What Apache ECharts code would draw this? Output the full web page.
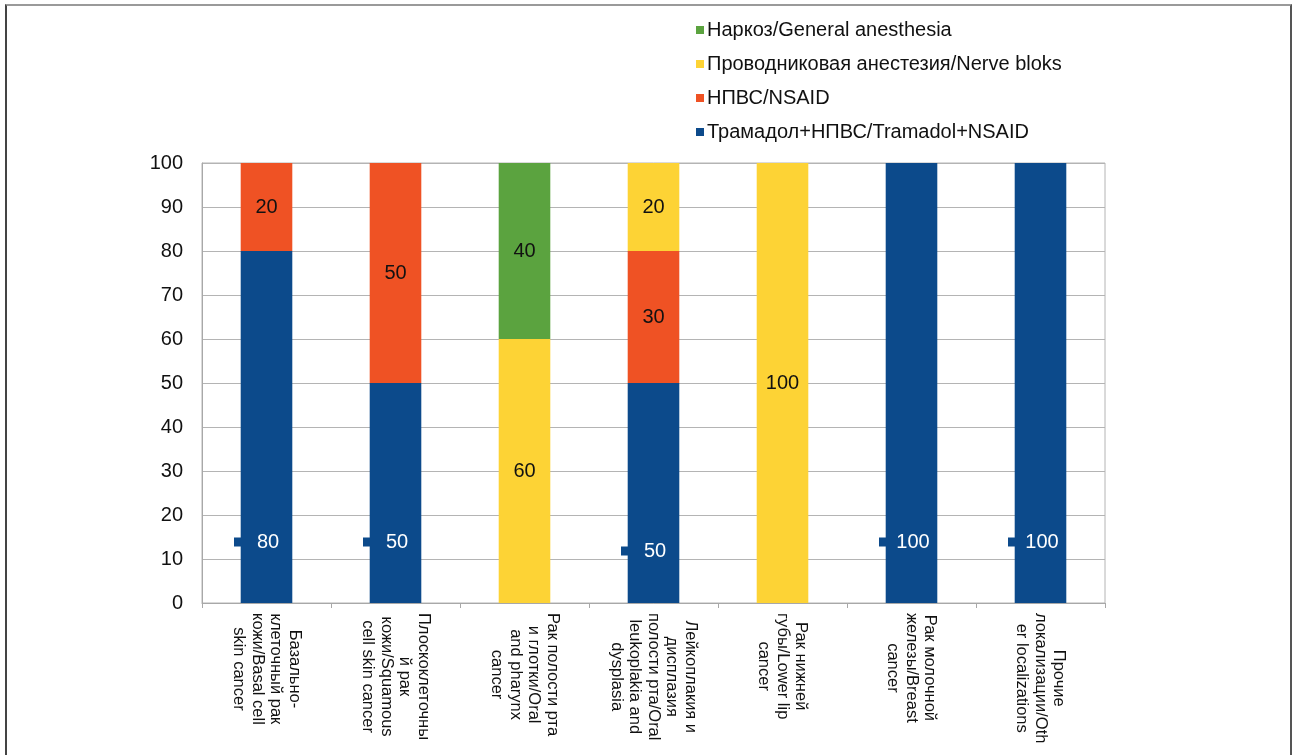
<!DOCTYPE html>
<html>
<head>
<meta charset="utf-8">
<script src="https://cdn.jsdelivr.net/npm/echarts@6/dist/echarts.min.js"></script>
<style>
  html, body { margin: 0; padding: 0; background: #fff; }
  #chart { width: 1294px; height: 755px; }
  #frame {
    position: absolute; left: 5px; top: 4px; width: 1283px; height: 800px;
    border-left: 2px solid #444; border-right: 2px solid #555; border-top: 2px solid #9a9a9a;
    pointer-events: none;
  }
</style>
</head>
<body>
<div id="chart"></div>
<div id="frame"></div>
<script>
// Categories (localisation of the tumour), bilingual labels split into lines
const categories = [
  'Базально-\nклеточный рак\nкожи/Basal cell\nskin cancer',
  'Плоскоклеточны\nй рак\nкожи/Squamous\ncell skin cancer',
  'Рак полости рта\nи глотки/Oral\nand pharynx\ncancer',
  'Лейкоплакия и\nдисплазия\nполости рта/Oral\nleukoplakia and\ndysplasia',
  'Рак нижней\nгубы/Lower lip\ncancer',
  'Рак молочной\nжелезы/Breast\ncancer',
  'Прочие\nлокализации/Oth\ner localizations'
];

// Series names
const nameTramadol = 'Трамадол+НПВС/Tramadol+NSAID';
const nameNsaid = 'НПВС/NSAID';
const nameNerve = 'Проводниковая анестезия/Nerve bloks';
const nameGeneral = 'Наркоз/General anesthesia';

// Share of patients, %, per category
const tramadolValues = [80, 50, 0, 50, 0, 100, 100];
const nsaidValues = [20, 50, 0, 30, 0, 0, 0];
const nerveValues = [0, 0, 60, 20, 100, 0, 0];
const generalValues = [0, 0, 40, 0, 0, 0, 0];

// Y axis ticks
const yTicks = [0, 10, 20, 30, 40, 50, 60, 70, 80, 90, 100];

const BLUE = '#0c4a8b';
const ORANGE = '#ef5224';
const YELLOW = '#fdd335';
const GREEN = '#5ba33f';
const FONT = '"Liberation Sans", Arial, sans-serif';

const toData = arr => arr.map(v => (v === 0 ? '-' : v));

function stackSeries(name, values, color, textColor) {
  return {
    name, type: 'bar', stack: 'total', barWidth: '40%',
    itemStyle: { color },
    data: toData(values),
    label: {
      show: true, position: 'inside', color: textColor,
      fontFamily: FONT, fontSize: 20
    }
  };
}

// Bottom series: white values near the base, preceded by a small key square
const tramadolSeries = {
  name: nameTramadol, type: 'bar', stack: 'total', barWidth: '40%',
  itemStyle: { color: BLUE },
  data: toData(tramadolValues).map((v, i) => {
    if (i === 3 && v !== '-') {
      return { value: v, label: { distance: 42 } };
    }
    return v;
  }),
  label: {
    show: true, position: 'insideBottom', distance: 51, offset: [-3, 0],
    formatter: p => '{k| }{v|' + p.value + '}',
    rich: {
      k: { width: 9, height: 9, backgroundColor: BLUE },
      v: { width: 50, align: 'center', color: '#fff', fontFamily: FONT, fontSize: 20 }
    }
  }
};

const chart = echarts.init(document.getElementById('chart'));
chart.setOption({
  backgroundColor: '#fff',
  animation: false,
  legend: {
    orient: 'vertical', left: 691, top: 15,
    itemWidth: 8, itemHeight: 8, itemGap: 14,
    icon: 'rect',
    data: [nameGeneral, nameNerve, nameNsaid, nameTramadol],
    textStyle: { color: '#111', fontFamily: FONT, fontSize: 20, padding: [0, 0, 0, -2] }
  },
  grid: {
    left: 202, right: 189, top: 163, bottom: 152,
    show: true, borderColor: '#b4b4b4', borderWidth: 1
  },
  xAxis: {
    type: 'category', data: categories,
    axisLine: { lineStyle: { color: '#a8a8a8', width: 1 } },
    axisTick: { show: true, length: 5, lineStyle: { color: '#a8a8a8' } },
    axisLabel: {
      interval: 0, rotate: -90, margin: 10,
      formatter: s => s.split('\n').map(l => '{c|' + l + '}').join('\n'),
      rich: { c: { align: 'center', fontFamily: FONT, fontSize: 16.5, lineHeight: 18.5, color: '#111' } }
    }
  },
  yAxis: {
    type: 'value', min: yTicks[0], max: yTicks[yTicks.length - 1], interval: yTicks[1] - yTicks[0],
    axisLine: { show: true, lineStyle: { color: '#a8a8a8' } },
    axisTick: { show: false },
    splitLine: { lineStyle: { color: '#b4b4b4', width: 1 } },
    axisLabel: { color: '#111', fontFamily: FONT, fontSize: 20, margin: 19 }
  },
  series: [
    tramadolSeries,
    stackSeries(nameNsaid, nsaidValues, ORANGE, '#111'),
    stackSeries(nameNerve, nerveValues, YELLOW, '#111'),
    stackSeries(nameGeneral, generalValues, GREEN, '#111')
  ]
});
</script>
</body>
</html>
